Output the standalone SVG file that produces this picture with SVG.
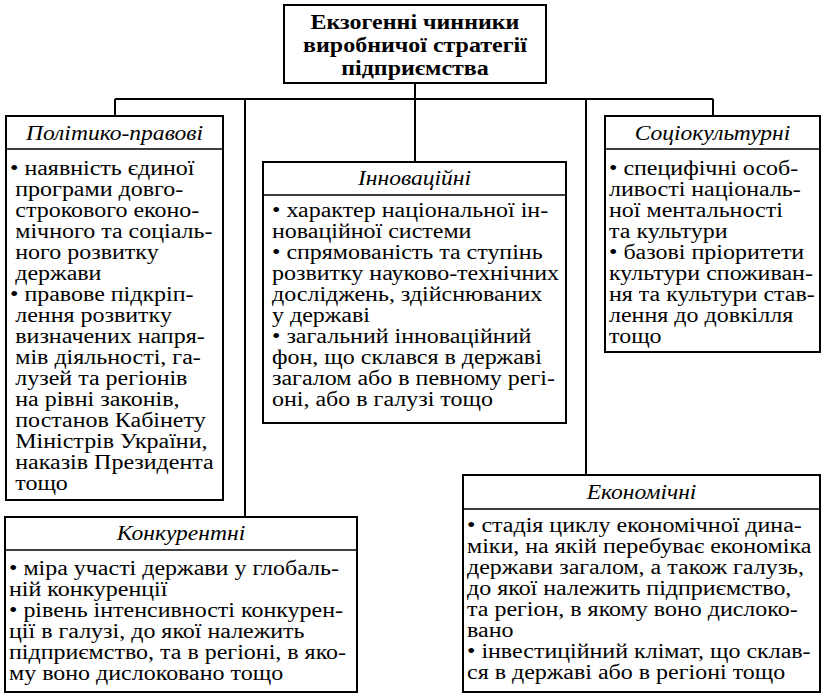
<svg xmlns="http://www.w3.org/2000/svg" width="823" height="694" viewBox="0 0 823 694">
<style>
.box{fill:#fff;stroke:#000;stroke-width:2}
.div{stroke:#000;stroke-width:1.6}
.ln{stroke:#000;stroke-width:2;fill:none}
text{font-family:"Liberation Serif","Times New Roman",serif;fill:#000}
.t{font-size:22px;font-weight:bold;text-anchor:middle}
.h{font-size:22px;font-style:italic;text-anchor:middle}
.b text{font-size:20.5px}
</style>
<rect width="823" height="694" fill="#fff"/>
<g id="connectors">
<path class="ln" d="M415,83V162M115,99H713M115,99V116M713,99V117M245,99V517M586,99V475"/>
</g>
<g id="title">
<rect class="box" x="284" y="5" width="262" height="78"/>
<g transform="translate(415 0) scale(1.09 1)">
<text class="t" x="0" y="29">Екзогенні чинники</text>
<text class="t" x="0" y="52">виробничої стратегії</text>
<text class="t" x="0" y="75">підприємства</text>
</g>
</g>
<g id="political">
<rect class="box" x="6" y="116" width="217" height="384"/>
<line class="div" x1="6" y1="149" x2="223" y2="149"/>
<text class="h" transform="translate(114.5 0) scale(1.07 1)" x="0" y="140">Політико-правові</text>
<g class="b" transform="translate(10 0) scale(1.17 1)">
<text x="0" y="175">• наявність єдиної</text>
<text x="4.5" y="196">програми довго-</text>
<text x="4.5" y="217">строкового еконо-</text>
<text x="4.5" y="238">мічного та соціаль-</text>
<text x="4.5" y="259">ного розвитку</text>
<text x="4.5" y="280">держави</text>
<text x="0" y="301">• правове підкріп-</text>
<text x="4.5" y="322">лення розвитку</text>
<text x="4.5" y="343">визначених напря-</text>
<text x="4.5" y="364">мів діяльності, га-</text>
<text x="4.5" y="385">лузей та регіонів</text>
<text x="4.5" y="406">на рівні законів,</text>
<text x="4.5" y="427">постанов Кабінету</text>
<text x="4.5" y="448">Міністрів України,</text>
<text x="4.5" y="469">наказів Президента</text>
<text x="4.5" y="490">тощо</text>
</g>
</g>
<g id="innovation">
<rect class="box" x="263" y="162" width="303" height="261"/>
<line class="div" x1="263" y1="195" x2="566" y2="195"/>
<text class="h" transform="translate(414.5 0) scale(1.07 1)" x="0" y="185">Інноваційні</text>
<g class="b" transform="translate(272 0) scale(1.17 1)">
<text x="0" y="217">• характер національної ін-</text>
<text x="0" y="238">новаційної системи</text>
<text x="0" y="259">• спрямованість та ступінь</text>
<text x="0" y="280">розвитку науково-технічних</text>
<text x="0" y="301">досліджень, здійснюваних</text>
<text x="0" y="322">у державі</text>
<text x="0" y="343">• загальний інноваційний</text>
<text x="0" y="364">фон, що склався в державі</text>
<text x="0" y="385">загалом або в певному регі-</text>
<text x="0" y="406">оні, або в галузі тощо</text>
</g>
</g>
<g id="sociocultural">
<rect class="box" x="605" y="116" width="215" height="236"/>
<line class="div" x1="605" y1="149" x2="820" y2="149"/>
<text class="h" transform="translate(712.5 0) scale(1.07 1)" x="0" y="140">Соціокультурні</text>
<g class="b" transform="translate(609 0) scale(1.17 1)">
<text x="0" y="175">• специфічні особ-</text>
<text x="0" y="196">ливості національ-</text>
<text x="0" y="217">ної ментальності</text>
<text x="0" y="238">та культури</text>
<text x="0" y="259">• базові пріоритети</text>
<text x="0" y="280">культури споживан-</text>
<text x="0" y="301">ня та культури став-</text>
<text x="0" y="322">лення до довкілля</text>
<text x="0" y="343">тощо</text>
</g>
</g>
<g id="competitive">
<rect class="box" x="5" y="517" width="352" height="175"/>
<line class="div" x1="5" y1="550" x2="357" y2="550"/>
<text class="h" transform="translate(181 0) scale(1.07 1)" x="0" y="540">Конкурентні</text>
<g class="b" transform="translate(9 0) scale(1.17 1)">
<text x="0" y="575">• міра участі держави у глобаль-</text>
<text x="0" y="596">ній конкуренції</text>
<text x="0" y="617">• рівень інтенсивності конкурен-</text>
<text x="0" y="638">ції в галузі, до якої належить</text>
<text x="0" y="659">підприємство, та в регіоні, в яко-</text>
<text x="0" y="680">му воно дислоковано тощо</text>
</g>
</g>
<g id="economic">
<rect class="box" x="463" y="475" width="357" height="217"/>
<line class="div" x1="463" y1="509" x2="820" y2="509"/>
<text class="h" transform="translate(641.5 0) scale(1.07 1)" x="0" y="499">Економічні</text>
<g class="b" transform="translate(467 0) scale(1.17 1)">
<text x="0" y="532">• стадія циклу економічної дина-</text>
<text x="0" y="553">міки, на якій перебуває економіка</text>
<text x="0" y="574">держави загалом, а також галузь,</text>
<text x="0" y="595">до якої належить підприємство,</text>
<text x="0" y="616">та регіон, в якому воно дислоко-</text>
<text x="0" y="637">вано</text>
<text x="0" y="658">• інвестиційний клімат, що склав-</text>
<text x="0" y="679">ся в державі або в регіоні тощо</text>
</g>
</g>
</svg>
